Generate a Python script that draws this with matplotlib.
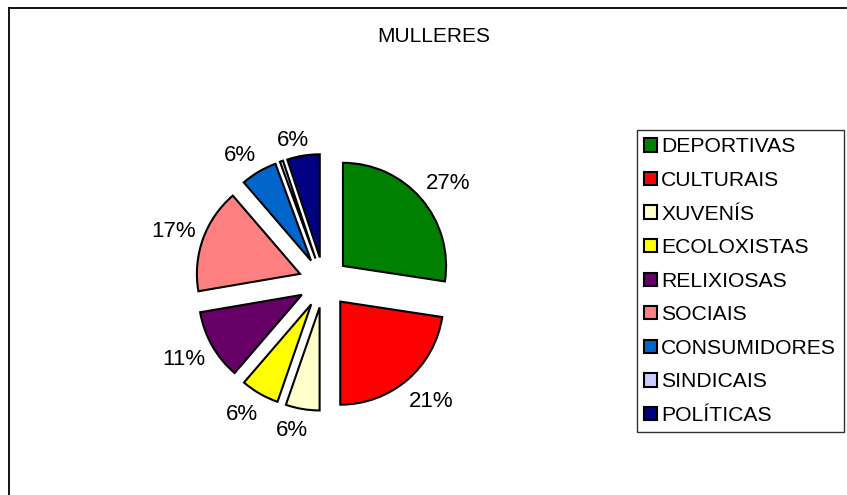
import numpy as np
import matplotlib
matplotlib.use("Agg")
import matplotlib.pyplot as plt
from matplotlib.lines import Line2D

plt.rcParams['font.family'] = ['Liberation Sans', 'DejaVu Sans']

categories = ["DEPORTIVAS", "CULTURAIS", "XUVENÍS", "ECOLOXISTAS", "RELIXIOSAS",
              "SOCIAIS", "CONSUMIDORES", "SINDICAIS", "POLÍTICAS"]
values = [27.4, 22.6, 5.3, 6.0, 11.0, 16.4, 5.7, 0.5, 5.1]
pct_labels = ["27%", "21%", "6%", "6%", "11%", "17%", "6%", "", "6%"]
colors = ["#008000", "#FF0000", "#FFFFCC", "#FFFF00", "#660066",
          "#FF8080", "#0066CC", "#CCCCFF", "#000080"]
title = "MULLERES"

W, H = 847, 495
fig = plt.figure(figsize=(W/100, H/100), dpi=100)

cx, cy = 323.8, 282.4   # pie centre in pixels (from top-left)
half = 165
ax = fig.add_axes([(cx-half)/W, (H-cy-half)/H, 2*half/W, 2*half/H])
wedges, _ = ax.pie(
    values, colors=colors, startangle=90, counterclock=False,
    explode=[0.245]*len(values), radius=1.0,
    wedgeprops=dict(edgecolor="black", linewidth=1.5, joinstyle="miter"))
ax.set_xlim(-1.6, 1.6)
ax.set_ylim(-1.6, 1.6)
ax.set_aspect("equal")
ax.axis("off")

# data labels placed just outside each slice (Excel style)
fig.canvas.draw()
renderer = fig.canvas.get_renderer()
ppu = ax.transData.transform((1, 0))[0] - ax.transData.transform((0, 0))[0]
for w, lab in zip(wedges, pct_labels):
    if not lab:
        continue
    mid = np.deg2rad((w.theta1 + w.theta2) / 2)
    ux, uy = np.cos(mid), np.sin(mid)
    t = ax.text(0, 0, lab, fontsize=16, ha="center", va="center")
    bb = t.get_window_extent(renderer)
    tw, th = bb.width / ppu, bb.height / ppu
    d = w.r * 1.1 + abs(ux) * tw / 2 * 0.75 + abs(uy) * th / 2 * 0.9
    x = w.center[0] + d * ux + np.sign(ux) * abs(uy) * 7 / ppu
    y = w.center[1] + d * uy - max(uy, 0) * 6 / ppu
    t.set_position((x, y))

fig.text(434/W, 1-37/H, title, ha="center", va="center", fontsize=15)

leg = fig.legend(wedges, categories, loc="upper left",
                 bbox_to_anchor=(637/W, 1-130/H),
                 fontsize=15.2, frameon=True, fancybox=False,
                 edgecolor="black", handlelength=0.6, handleheight=0.6,
                 handletextpad=0.2, labelspacing=0.69, borderpad=0.35,
                 borderaxespad=0.0)
leg.get_frame().set_linewidth(1.0)

# chart area border (left and top visible)
fig.add_artist(Line2D([9/W, 9/W], [0, 1-8/H], color="black", lw=1.3,
                      transform=fig.transFigure))
fig.add_artist(Line2D([9/W, 846/W], [1-8/H, 1-8/H], color="black", lw=1.3,
                      transform=fig.transFigure))

fig.savefig("out.png", dpi=100, facecolor="white")
